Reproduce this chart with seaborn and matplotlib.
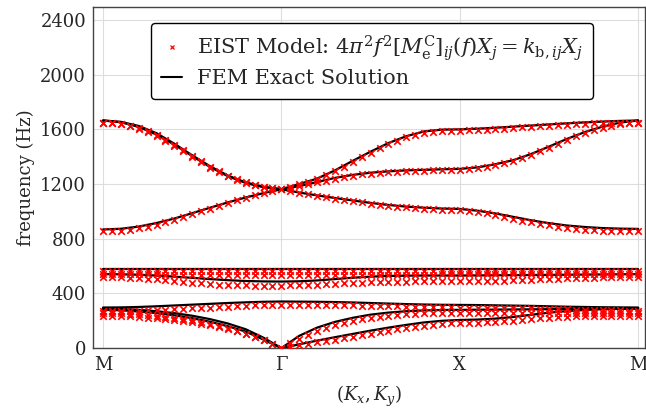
import numpy as np
import pandas as pd
import matplotlib
matplotlib.use("Agg")
import matplotlib.pyplot as plt
from matplotlib.lines import Line2D
import seaborn as sns

# path M -> Gamma -> X -> M, one unit per segment
k_labels = ["M", "Γ", "X", "M"]
k_fem = np.round(np.linspace(0, 3, 31), 2)
k_eist = np.round(np.linspace(0, 3, 61), 2)

# FEM exact solution (Hz), sampled every 0.1
fem_1 = [280, 277, 268, 256, 240, 219, 193, 160, 121, 62, 0,
         28, 55, 80, 104, 128, 150, 170, 188, 200, 206,
         209, 216, 228, 244, 259, 271, 279, 285, 288, 290]
fem_2 = [290, 287, 280, 270, 256, 237, 212, 180, 138, 76, 0,
         90, 150, 192, 222, 245, 260, 270, 276, 279, 280,
         281, 282, 283, 284, 285, 286, 287, 288, 289, 290]
fem_3 = [297, 298, 301, 306, 312, 318, 324, 330, 335, 339, 341,
         340, 339, 337, 334, 330, 326, 322, 319, 317, 316,
         315, 313, 311, 309, 306, 303, 301, 299, 298, 297]
fem_4 = [578, 578, 578, 578, 578, 578, 578, 578, 578, 578, 578,
         578, 578, 578, 578, 578, 578, 578, 578, 578, 578,
         578, 578, 578, 578, 578, 578, 578, 578, 578, 578]
fem_5 = [541, 540, 537, 531, 523, 514, 505, 497, 491, 488, 487,
         489, 495, 505, 515, 523, 528, 530, 531, 531, 531,
         532, 533, 534, 535, 536, 537, 538, 539, 540, 541]
fem_6 = [1665, 1655, 1625, 1572, 1495, 1410, 1330, 1262, 1212, 1180, 1162,
         1138, 1117, 1098, 1080, 1062, 1047, 1035, 1027, 1021, 1018,
         1005, 985, 960, 935, 914, 897, 886, 878, 874, 872]
fem_7 = [868, 873, 889, 915, 948, 987, 1027, 1066, 1102, 1134, 1162,
         1200, 1240, 1300, 1370, 1437, 1500, 1550, 1585, 1598, 1600,
         1605, 1612, 1620, 1628, 1636, 1644, 1651, 1657, 1662, 1665]
fem_8 = [1665, 1652, 1618, 1562, 1488, 1405, 1325, 1258, 1208, 1177, 1162,
         1185, 1215, 1245, 1267, 1283, 1293, 1300, 1304, 1308, 1311,
         1322, 1345, 1375, 1420, 1474, 1530, 1580, 1620, 1650, 1665]

# EIST model (Hz), sampled every 0.05
eist_1 = [238, 237, 235, 232, 228, 223, 218, 212, 205, 198, 190, 180, 168, 155, 140, 123, 104, 82, 57, 29, 0,
          10, 20, 31, 42, 53, 63, 74, 84, 95, 106, 117, 127, 137, 147, 156, 165, 172, 178, 182, 184,
          185, 186, 188, 191, 195, 200, 205, 211, 217, 222, 226, 230, 233, 235, 236, 237, 238, 238, 238, 238]
eist_2 = [258, 257, 255, 252, 248, 243, 237, 230, 222, 213, 203, 191, 178, 163, 146, 127, 106, 83, 58, 30, 0,
          35, 68, 98, 125, 148, 168, 185, 199, 211, 221, 229, 236, 242, 247, 251, 254, 256, 258, 259, 260,
          260, 260, 260, 260, 260, 259, 259, 259, 259, 259, 259, 258, 258, 258, 258, 258, 258, 258, 258, 258]
eist_3 = [270, 270, 271, 272, 274, 276, 278, 281, 284, 287, 290, 293, 297, 300, 304, 307, 310, 313, 315, 317, 318,
          318, 318, 317, 317, 316, 315, 314, 313, 311, 310, 308, 306, 305, 303, 302, 300, 299, 298, 298, 297,
          297, 296, 296, 295, 294, 293, 292, 290, 289, 287, 286, 284, 282, 281, 279, 278, 277, 276, 275, 275]
eist_4 = [562, 562, 562, 562, 562, 562, 562, 562, 562, 562, 562, 562, 562, 562, 562, 562, 562, 562, 562, 562, 562,
          562, 562, 562, 562, 562, 562, 562, 562, 562, 562, 562, 562, 562, 562, 562, 562, 562, 562, 562, 562,
          562, 562, 562, 562, 562, 562, 562, 562, 562, 562, 562, 562, 562, 562, 562, 562, 562, 562, 562, 562]
eist_5 = [540, 540, 540, 540, 539, 539, 539, 538, 538, 538, 537, 537, 537, 536, 536, 536, 535, 535, 535, 535, 535,
          535, 535, 535, 535, 536, 536, 536, 536, 537, 537, 537, 537, 538, 538, 538, 538, 538, 539, 539, 539,
          539, 539, 539, 539, 539, 539, 539, 539, 540, 540, 540, 540, 540, 540, 540, 540, 540, 540, 540, 540]
eist_6 = [518, 518, 517, 515, 512, 508, 503, 497, 491, 485, 479, 474, 469, 465, 462, 460, 459, 458, 458, 458, 458,
          459, 460, 462, 464, 467, 470, 473, 476, 479, 481, 483, 485, 486, 487, 488, 488, 488, 488, 488, 488,
          488, 489, 490, 491, 493, 495, 497, 500, 503, 506, 509, 511, 513, 515, 516, 517, 518, 518, 519, 519]
eist_7 = [1650, 1647, 1640, 1628, 1611, 1588, 1560, 1525, 1487, 1446, 1405, 1366, 1328, 1293, 1261, 1235, 1212, 1195, 1180, 1170, 1162,
          1149, 1136, 1124, 1113, 1103, 1093, 1084, 1075, 1066, 1057, 1049, 1042, 1035, 1029, 1024, 1020, 1016, 1013, 1011, 1010,
          1004, 996, 986, 974, 961, 947, 933, 920, 908, 897, 887, 879, 872, 866, 862, 859, 857, 855, 854, 854]
eist_8 = [855, 856, 860, 867, 877, 889, 903, 920, 938, 958, 979, 1000, 1021, 1042, 1062, 1081, 1100, 1117, 1133, 1148, 1162,
          1180, 1199, 1218, 1238, 1263, 1294, 1328, 1362, 1396, 1429, 1461, 1491, 1518, 1541, 1561, 1575, 1583, 1588, 1590, 1590,
          1592, 1595, 1598, 1602, 1606, 1610, 1614, 1618, 1622, 1626, 1630, 1634, 1637, 1640, 1643, 1645, 1647, 1649, 1650, 1650]
eist_9 = [1650, 1646, 1638, 1624, 1605, 1580, 1551, 1517, 1479, 1439, 1399, 1359, 1321, 1287, 1256, 1230, 1208, 1190, 1177, 1168, 1162,
          1172, 1184, 1198, 1212, 1226, 1240, 1252, 1262, 1270, 1277, 1282, 1287, 1291, 1294, 1296, 1298, 1300, 1301, 1302, 1303,
          1307, 1314, 1324, 1337, 1352, 1368, 1389, 1413, 1439, 1467, 1495, 1523, 1549, 1573, 1594, 1612, 1627, 1639, 1647, 1650]

fem_bands = [fem_1, fem_2, fem_3, fem_4, fem_5, fem_6, fem_7, fem_8]
eist_bands = [eist_1, eist_2, eist_3, eist_4, eist_5, eist_6, eist_7, eist_8, eist_9]

fem_df = pd.concat([pd.DataFrame({"k": k_fem, "f": b, "band": i}) for i, b in enumerate(fem_bands)])
eist_df = pd.concat([pd.DataFrame({"k": k_eist, "f": b, "band": i}) for i, b in enumerate(eist_bands)])

sns.set_style("white")
plt.rcParams["font.family"] = ["DejaVu Serif"]
plt.rcParams["mathtext.fontset"] = "dejavuserif"

fig, ax = plt.subplots(figsize=(6.46, 4.12), dpi=100)
fig.subplots_adjust(left=0.144, right=0.999, bottom=0.155, top=0.983)

sns.lineplot(data=fem_df, x="k", y="f", units="band", estimator=None, color="black",
             lw=1.6, ax=ax, legend=False, zorder=2)
sns.scatterplot(data=eist_df, x="k", y="f", marker="x", color="red", s=22, linewidth=1.2,
                ax=ax, legend=False, zorder=3)

ax.set_xlim(-0.056, 3.04)
ax.set_ylim(0, 2495)
ax.set_xticks([0, 1, 2, 3])
ax.set_xticklabels(k_labels)
ax.set_yticks([0, 400, 800, 1200, 1600, 2000, 2400])
ax.tick_params(axis="x", direction="in", length=4, labelsize=13, color="#555555", pad=6)
ax.tick_params(axis="y", direction="out", length=3, labelsize=13, color="#555555", pad=2)
ax.grid(True, color="#dddddd", lw=0.8)
ax.set_axisbelow(True)
for sp in ax.spines.values():
    sp.set_color("#444444")
    sp.set_linewidth(1.0)
ax.set_xlabel(r"$(K_x, K_y)$", fontsize=13, labelpad=7)
ax.set_ylabel("frequency (Hz)", fontsize=13, labelpad=4)

handles = [Line2D([], [], marker="x", color="red", ls="none", markersize=3.5, markeredgewidth=0.9),
           Line2D([], [], color="black", lw=1.5)]
labels = [r"EIST Model: $4\pi^2f^2[M_\mathrm{e}^\mathrm{C}]_{ij}(f)X_j = k_{\mathrm{b},ij}X_j$",
          "FEM Exact Solution"]
ax.legend(handles, labels, loc="upper left", bbox_to_anchor=(0.105, 0.953), borderaxespad=0,
          fontsize=15, frameon=True, fancybox=True, edgecolor="black", framealpha=1,
          handlelength=1.0, handletextpad=0.7, borderpad=0.5, labelspacing=0.3)

plt.savefig("out.png", dpi=100)
